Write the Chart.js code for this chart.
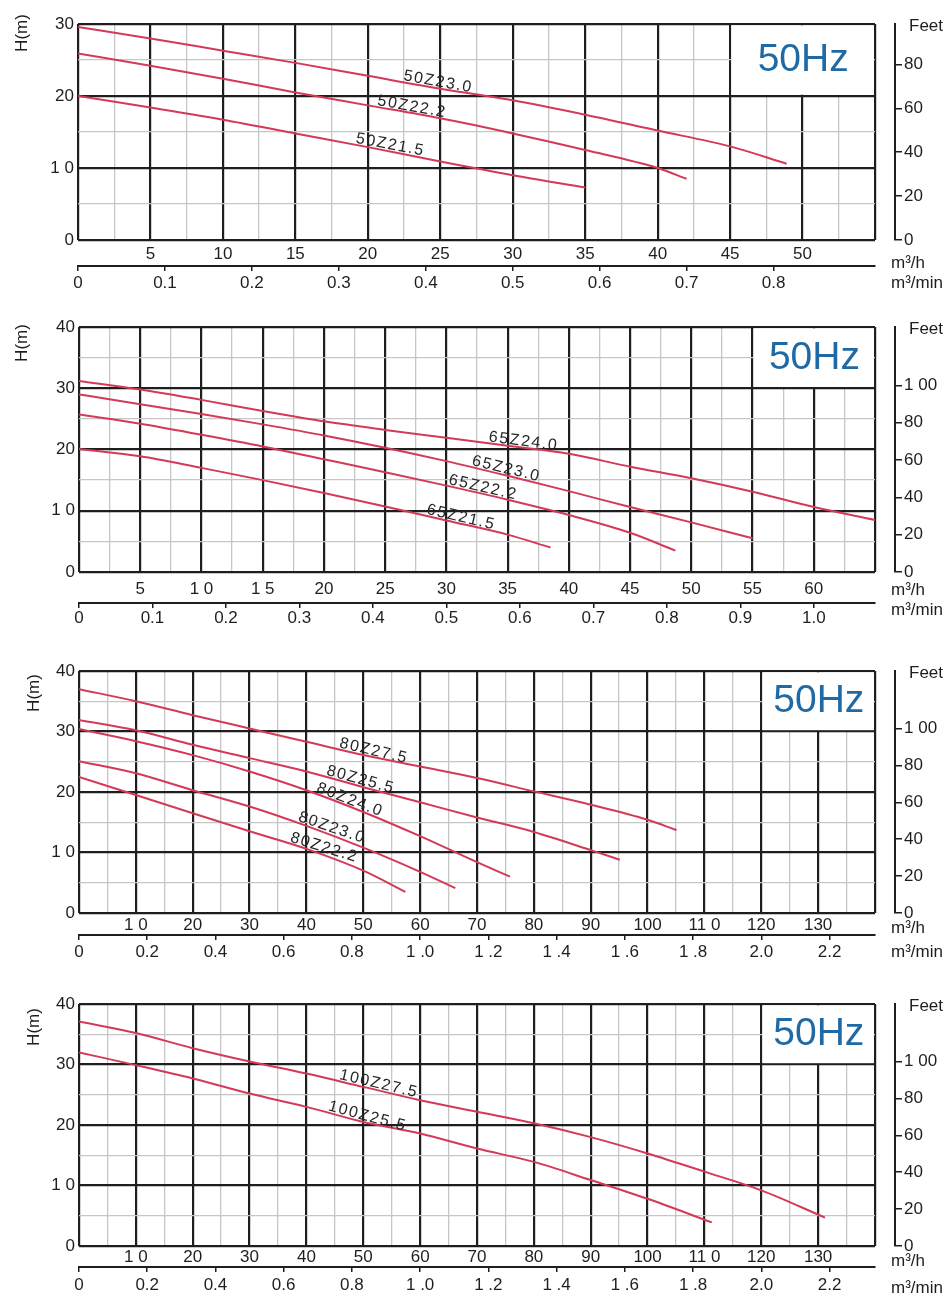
<!DOCTYPE html>
<html>
<head>
<meta charset="utf-8">
<title>50Hz pump curves</title>
<script src="https://cdn.jsdelivr.net/npm/chart.js@4.4.1/dist/chart.umd.min.js"></script>
<style>
  html, body { margin: 0; padding: 0; background: #fff; }
  body { width: 952px; height: 1296px; position: relative; overflow: hidden; }
  .panel { position: absolute; left: 0; width: 952px; }
  .panel canvas { display: block; }
</style>
</head>
<body>
<div class="panel" style="top:0;height:292px"><canvas id="c1"></canvas></div>
<div class="panel" style="top:300px;height:330px"><canvas id="c2"></canvas></div>
<div class="panel" style="top:632px;height:330px"><canvas id="c3"></canvas></div>
<div class="panel" style="top:965px;height:331px"><canvas id="c4"></canvas></div>
<script>
// ---- data: flow (m3/h) and head (m) ----

// panel 1 : 50Z
const p1Names = ['50Z23.0', '50Z22.2', '50Z21.5'];
const p1LabelAt = [22.4, 20.6, 19.1];
const q50Z230 = [0, 5, 10, 15, 20, 25, 30, 35, 40, 45, 48.9];
const h50Z230 = [29.6, 28.0, 26.3, 24.6, 22.8, 21.0, 19.4, 17.4, 15.2, 13.0, 10.6];
const q50Z222 = [0, 5, 10, 15, 20, 25, 30, 35, 40, 42];
const h50Z222 = [25.9, 24.2, 22.4, 20.5, 18.7, 16.9, 14.8, 12.5, 10.0, 8.5];
const q50Z215 = [0, 5, 10, 15, 20, 25, 30, 35];
const h50Z215 = [20.0, 18.4, 16.7, 14.8, 12.9, 10.9, 9.0, 7.3];

// panel 2 : 65Z
const p2Names = ['65Z24.0', '65Z23.0', '65Z22.2', '65Z21.5'];
const p2LabelAt = [33.4, 32.0, 30.1, 28.3];
const q65Z240 = [0, 5, 10, 15, 20, 25, 30, 35, 40, 45, 50, 55, 60, 65];
const h65Z240 = [31.2, 29.8, 28.1, 26.3, 24.6, 23.2, 21.9, 20.6, 19.3, 17.2, 15.3, 13.1, 10.6, 8.5];
const q65Z230 = [0, 5, 10, 15, 20, 25, 30, 35, 40, 45, 50, 55];
const h65Z230 = [29.0, 27.4, 25.8, 24.1, 22.3, 20.3, 18.1, 15.7, 13.2, 10.6, 8.1, 5.5];
const q65Z222 = [0, 5, 10, 15, 20, 25, 30, 35, 40, 45, 48.7];
const h65Z222 = [25.7, 24.2, 22.4, 20.5, 18.4, 16.3, 14.1, 11.8, 9.3, 6.4, 3.5];
const q65Z215 = [0, 5, 10, 15, 20, 25, 30, 35, 38.5];
const h65Z215 = [20.1, 18.9, 17.0, 15.0, 12.9, 10.7, 8.4, 6.1, 4.0];

// panel 3 : 80Z
const p3Names = ['80Z27.5', '80Z25.5', '80Z24.0', '80Z23.0', '80Z22.2'];
const p3LabelAt = [45.6, 43.3, 41.5, 38.3, 36.9];
const q80Z275 = [0, 10, 20, 30, 40, 50, 60, 70, 80, 90, 100, 105.1];
const h80Z275 = [37.0, 35.0, 32.7, 30.5, 28.3, 26.1, 24.2, 22.3, 20.1, 17.9, 15.4, 13.7];
const q80Z255 = [0, 10, 20, 30, 40, 50, 60, 70, 80, 90, 95.1];
const h80Z255 = [31.9, 30.2, 27.8, 25.6, 23.4, 20.8, 18.3, 15.8, 13.4, 10.4, 8.8];
const q80Z240 = [0, 10, 20, 30, 40, 50, 60, 70, 75.8];
const h80Z240 = [30.4, 28.4, 26.1, 23.4, 20.3, 16.7, 12.7, 8.4, 6.0];
const q80Z230 = [0, 10, 20, 30, 40, 50, 60, 66.2];
const h80Z230 = [25.1, 23.1, 20.3, 17.6, 14.4, 10.8, 6.8, 4.1];
const q80Z222 = [0, 10, 20, 30, 40, 50, 57.4];
const h80Z222 = [22.5, 19.5, 16.5, 13.5, 10.6, 7.0, 3.5];

// panel 4 : 100Z
const p4Names = ['100Z27.5', '100Z25.5'];
const p4LabelAt = [45.6, 43.6];
const q100Z275 = [0, 10, 20, 30, 40, 50, 60, 70, 80, 90, 100, 110, 120, 131.2];
const h100Z275 = [37.1, 35.2, 32.7, 30.5, 28.5, 26.3, 24.1, 22.2, 20.3, 18.0, 15.3, 12.3, 9.2, 4.7];
const q100Z255 = [0, 10, 20, 30, 40, 50, 60, 70, 80, 90, 100, 111.3];
const h100Z255 = [32.0, 29.9, 27.7, 25.2, 23.0, 20.5, 18.6, 16.1, 13.9, 10.9, 7.8, 3.9];

// ---- tick labels (as printed on the sheet) ----
const p1FlowTicks = [5, 10, 15, 20, 25, 30, 35, 40, 45, 50];
const p1FlowText = ['5', '10', '15', '20', '25', '30', '35', '40', '45', '50'];
const p2FlowTicks = [5, 10, 15, 20, 25, 30, 35, 40, 45, 50, 55, 60];
const p2FlowText = ['5', '1 0', '1 5', '20', '25', '30', '35', '40', '45', '50', '55', '60'];
const p34FlowTicks = [10, 20, 30, 40, 50, 60, 70, 80, 90, 100, 110, 120, 130];
const p34FlowText = ['1 0', '20', '30', '40', '50', '60', '70', '80', '90', '100', '11 0', '120', '130'];

const p1MinTicks = [0, 0.1, 0.2, 0.3, 0.4, 0.5, 0.6, 0.7, 0.8];
const p1MinText = ['0', '0.1', '0.2', '0.3', '0.4', '0.5', '0.6', '0.7', '0.8'];
const p2MinTicks = [0, 0.1, 0.2, 0.3, 0.4, 0.5, 0.6, 0.7, 0.8, 0.9, 1.0];
const p2MinText = ['0', '0.1', '0.2', '0.3', '0.4', '0.5', '0.6', '0.7', '0.8', '0.9', '1.0'];
const p34MinTicks = [0, 0.2, 0.4, 0.6, 0.8, 1.0, 1.2, 1.4, 1.6, 1.8, 2.0, 2.2];
const p34MinText = ['0', '0.2', '0.4', '0.6', '0.8', '1 .0', '1 .2', '1 .4', '1 .6', '1 .8', '2.0', '2.2'];

const head30Ticks = [0, 10, 20, 30];
const head30Text = ['0', '1 0', '20', '30'];
const head40Ticks = [0, 10, 20, 30, 40];
const head40Text = ['0', '1 0', '20', '30', '40'];
const feetTicks = [0, 20, 40, 60, 80, 100];
const feetText = ['0', '20', '40', '60', '80', '1 00'];

const M_TO_FT = 3.28084;
const M3H_PER_M3MIN = 60;

// ---- styling ----
const FONT = '"Liberation Sans", Arial, Helvetica, sans-serif';
const INK = '#1e1e1e';
const MAJOR = '#1e1e1e';
const MINOR = '#c6c6c6';
const CURVE = '#d43a55';
const HZ_BLUE = '#1f6aa5';

function tickText(v, vals, texts) {
    const i = vals.findIndex(t => Math.abs(t - v) < 1e-6);
    return i < 0 ? '' : texts[i];
}

function isMajor(v, step) {
    const r = v / step;
    return Math.abs(r - Math.round(r)) < 1e-6;
}

// white box in the top right corner with the frequency
const hzBox = {
    id: 'hzBox',
    beforeDatasetsDraw(chart, args, o) {
        const {ctx, chartArea: a, scales: {x, y}} = chart;
        const left = x.getPixelForValue(o.x0) + 1.3;
        const bottom = y.getPixelForValue(o.y0) - 1.3;
        ctx.save();
        ctx.fillStyle = '#fff';
        ctx.fillRect(left, a.top + 1.3, a.right - 1.3 - left, bottom - a.top - 1.3);
        ctx.fillStyle = HZ_BLUE;
        ctx.font = '39px ' + FONT;
        ctx.textAlign = 'center';
        ctx.textBaseline = 'middle';
        ctx.fillText('50Hz', (left + a.right) / 2, (a.top + bottom) / 2 + 1);
        ctx.restore();
    }
};

// model names written along each curve
const curveLabels = {
    id: 'curveLabels',
    afterDatasetsDraw(chart) {
        const {ctx, scales: {x, y}} = chart;
        ctx.save();
        ctx.font = '16px ' + FONT;
        ctx.fillStyle = '#262626';
        ctx.letterSpacing = '1.6px';
        ctx.textAlign = 'left';
        ctx.textBaseline = 'alphabetic';
        chart.data.datasets.forEach(ds => {
            const pts = ds.data;
            const lx = ds.labelAt;
            let i = pts.findIndex(p => p.x > lx);
            if (i < 1) i = 1;
            const a = pts[i - 1], b = pts[i];
            const t = (lx - a.x) / (b.x - a.x);
            const ly = a.y + t * (b.y - a.y);
            const ang = Math.atan2(
                y.getPixelForValue(b.y) - y.getPixelForValue(a.y),
                x.getPixelForValue(b.x) - x.getPixelForValue(a.x));
            ctx.save();
            ctx.translate(x.getPixelForValue(lx), y.getPixelForValue(ly));
            ctx.rotate(ang);
            ctx.fillText(ds.label, 0, -2);
            ctx.restore();
        });
        ctx.restore();
    }
};

// axis titles that sit outside the normal title slots
const axisTexts = {
    id: 'axisTexts',
    afterDraw(chart, args, o) {
        const {ctx, chartArea: a} = chart;
        ctx.save();
        ctx.fillStyle = INK;
        ctx.font = '17px ' + FONT;
        ctx.textBaseline = 'middle';
        ctx.save();
        ctx.translate(o.hX, a.top + o.hDy);
        ctx.rotate(-Math.PI / 2);
        ctx.textAlign = 'center';
        ctx.fillText('H(m)', 0, 0);
        ctx.restore();
        ctx.textAlign = 'left';
        ctx.fillText('Feet', 909, a.top + 2);
        ctx.fillText('m³/h', 891, a.bottom + o.m3hDy);
        ctx.fillText('m³/min', 891, a.bottom + o.m3minDy);
        ctx.restore();
    }
};

function makeChart(id, p) {
    const tickFont = {family: FONT, size: 17};
    const datasets = p.names.map((n, i) => ({
        label: n,
        labelAt: p.labelAt[i],
        data: p.q[i].map((q, j) => ({x: q, y: p.h[i][j]})),
        borderColor: CURVE,
        borderWidth: 2,
        pointRadius: 0,
        fill: false,
        cubicInterpolationMode: 'monotone'
    }));

    return new Chart(document.getElementById(id), {
        type: 'line',
        data: {datasets},
        plugins: [hzBox, curveLabels, axisTexts],
        options: {
            responsive: true,
            maintainAspectRatio: false,
            animation: false,
            layout: {padding: {top: p.padTop, left: 0, right: 0, bottom: 0}, autoPadding: false},
            plugins: {
                legend: {display: false},
                tooltip: {enabled: false},
                hzBox: {x0: p.boxX, y0: p.boxY},
                axisTexts: {hX: p.hX, hDy: p.hDy, m3hDy: p.m3hDy, m3minDy: p.m3minDy}
            },
            scales: {
                x: {
                    type: 'linear', position: 'bottom', weight: 0,
                    min: 0, max: p.qMax,
                    afterFit: s => { s.height = p.xH; },
                    border: {display: false},
                    grid: {
                        drawTicks: false,
                        color: c => isMajor(c.tick.value, p.qMajor) ? MAJOR : MINOR,
                        lineWidth: c => isMajor(c.tick.value, p.qMajor) ? 2.2 : 1.3
                    },
                    ticks: {
                        stepSize: p.qMinor, autoSkip: false, maxTicksLimit: 200,
                        maxRotation: 0, minRotation: 0, padding: p.xPad,
                        color: INK, font: tickFont,
                        callback: v => tickText(v, p.qTicks, p.qText)
                    }
                },
                x2: {
                    type: 'linear', position: 'bottom', weight: 1,
                    min: 0, max: p.qMax / M3H_PER_M3MIN,
                    afterFit: s => { s.height = p.x2H; },
                    afterBuildTicks: s => {
                        s.ticks = s.ticks.filter(t => p.minTicks.some(m => Math.abs(m - t.value) < 1e-6));
                    },
                    border: {display: true, color: INK, width: 2},
                    grid: {drawOnChartArea: false, drawTicks: true, tickLength: 5, color: INK, lineWidth: 1.5},
                    ticks: {
                        stepSize: p.minStep, autoSkip: false, maxTicksLimit: 200, includeBounds: false,
                        maxRotation: 0, minRotation: 0, padding: p.x2Pad,
                        color: INK, font: tickFont,
                        callback: v => tickText(v, p.minTicks, p.minText)
                    }
                },
                y: {
                    type: 'linear', position: 'left',
                    min: 0, max: p.hMax,
                    afterFit: s => { s.width = p.left; },
                    border: {display: false},
                    grid: {
                        drawTicks: false,
                        color: c => isMajor(c.tick.value, 10) ? MAJOR : MINOR,
                        lineWidth: c => isMajor(c.tick.value, 10) ? 2.2 : 1.3
                    },
                    ticks: {
                        stepSize: 5, autoSkip: false, padding: 4,
                        color: INK, font: tickFont,
                        callback: v => tickText(v, p.hTicks, p.hText)
                    }
                },
                gap: {
                    type: 'linear', position: 'right', weight: 0,
                    afterFit: s => { s.width = 20; },
                    border: {display: false},
                    grid: {display: false},
                    ticks: {display: false}
                },
                y2: {
                    type: 'linear', position: 'right', weight: 1,
                    min: 0, max: p.hMax * M_TO_FT,
                    afterFit: s => { s.width = 952 - 875 - 20; },
                    afterBuildTicks: s => {
                        s.ticks = s.ticks.filter(t => t.value <= 100 + 1e-6);
                    },
                    border: {display: true, color: INK, width: 2},
                    grid: {drawOnChartArea: false, drawTicks: true, tickLength: 7, color: INK, lineWidth: 1.5},
                    ticks: {
                        stepSize: 20, autoSkip: false, padding: 2, includeBounds: false,
                        color: INK, font: tickFont,
                        callback: v => tickText(v, feetTicks, feetText)
                    }
                }
            }
        }
    });
}

makeChart('c1', {
    names: p1Names, labelAt: p1LabelAt,
    q: [q50Z230, q50Z222, q50Z215], h: [h50Z230, h50Z222, h50Z215],
    qMax: 55, qMinor: 2.5, qMajor: 5, qTicks: p1FlowTicks, qText: p1FlowText,
    minStep: 0.1, minTicks: p1MinTicks, minText: p1MinText,
    hMax: 30, hTicks: head30Ticks, hText: head30Text,
    boxX: 45, boxY: 20,
    left: 78, padTop: 24, xH: 26, x2H: 26, xPad: 4, x2Pad: 2,
    hX: 22, hDy: 9, m3hDy: 23, m3minDy: 43
});

makeChart('c2', {
    names: p2Names, labelAt: p2LabelAt,
    q: [q65Z240, q65Z230, q65Z222, q65Z215], h: [h65Z240, h65Z230, h65Z222, h65Z215],
    qMax: 65, qMinor: 2.5, qMajor: 5, qTicks: p2FlowTicks, qText: p2FlowText,
    minStep: 0.1, minTicks: p2MinTicks, minText: p2MinText,
    hMax: 40, hTicks: head40Ticks, hText: head40Text,
    boxX: 55, boxY: 30,
    left: 79, padTop: 27, xH: 31, x2H: 27, xPad: 7, x2Pad: 0,
    hX: 22, hDy: 16, m3hDy: 18, m3minDy: 38
});

makeChart('c3', {
    names: p3Names, labelAt: p3LabelAt,
    q: [q80Z275, q80Z255, q80Z240, q80Z230, q80Z222],
    h: [h80Z275, h80Z255, h80Z240, h80Z230, h80Z222],
    qMax: 140, qMinor: 5, qMajor: 10, qTicks: p34FlowTicks, qText: p34FlowText,
    minStep: 0.2, minTicks: p34MinTicks, minText: p34MinText,
    hMax: 40, hTicks: head40Ticks, hText: head40Text,
    boxX: 120, boxY: 30,
    left: 79, padTop: 39, xH: 22, x2H: 27, xPad: 2, x2Pad: 2,
    hX: 34, hDy: 22, m3hDy: 15, m3minDy: 39
});

makeChart('c4', {
    names: p4Names, labelAt: p4LabelAt,
    q: [q100Z275, q100Z255], h: [h100Z275, h100Z255],
    qMax: 140, qMinor: 5, qMajor: 10, qTicks: p34FlowTicks, qText: p34FlowText,
    minStep: 0.2, minTicks: p34MinTicks, minText: p34MinText,
    hMax: 40, hTicks: head40Ticks, hText: head40Text,
    boxX: 120, boxY: 30,
    left: 79, padTop: 39, xH: 21, x2H: 29, xPad: 1, x2Pad: 3,
    hX: 34, hDy: 23, m3hDy: 15, m3minDy: 42
});
</script>
</body>
</html>
